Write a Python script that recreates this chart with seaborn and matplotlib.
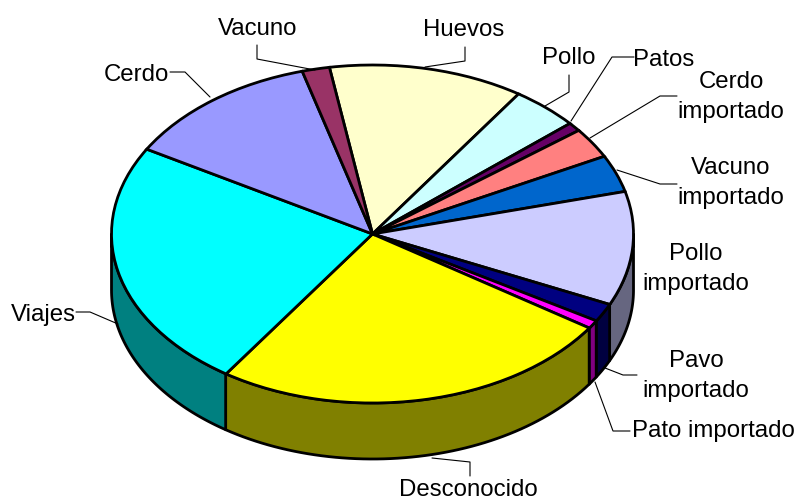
import numpy as np
import matplotlib
matplotlib.use("Agg")
import matplotlib.pyplot as plt
import seaborn as sns

names = ["Huevos", "Pollo", "Patos", "Cerdo\nimportado", "Vacuno\nimportado", "Pollo\nimportado",
         "Pavo\nimportado", "Pato importado", "Desconocido", "Viajes", "Cerdo", "Vacuno"]
values = [12.1, 4.2, 0.85, 2.9, 3.55, 10.9, 1.75, 0.8, 25.1, 23.9, 12.3, 1.7]
top_colors = ["#FFFFCC", "#CCFFFF", "#660066", "#FF8080", "#0066CC", "#CCCCFF",
              "#000080", "#FF00FF", "#FFFF00", "#00FFFF", "#9999FF", "#993366"]
side_colors = ["#808066", "#668080", "#330033", "#804040", "#003366", "#666680",
               "#000040", "#800080", "#808000", "#008080", "#4D4D80", "#4D1A33"]

# label centres and leader lines, in picture pixels
label_pos = [(464, 30), (569, 58), (664, 60), (731, 97), (731, 183), (696, 269),
             (696, 376), (713, 431), (468, 490), (43, 315), (136, 75), (258, 29)]
leaders = [[(465, 48), (465, 62), (425, 68)],
           [(569, 76), (569, 93), (545, 107)],
           [(634, 58), (612, 58), (571, 122)],
           [(677, 97), (660, 97), (590, 139)],
           [(677, 185), (660, 185), (617, 171)],
           [(605, 369), (623, 376), (637, 376)],
           [(595, 383), (613, 432), (630, 432)],
           [(432, 459), (470, 463), (470, 477)],
           [(76, 313), (90, 313), (118, 325)],
           [(170, 73), (185, 73), (210, 98)],
           [(257, 46), (257, 60), (315, 71)]]

cx, cy, rx, ry, depth = 372.5, 235, 261, 169, 56
start = 99.5

sns.set_theme(style="white")
plt.rcParams["font.family"] = ["Liberation Sans"]

fig = plt.figure(figsize=(7.96, 5.02), dpi=100)
ax = fig.add_axes([0, 0, 1, 1])

ax.pie(values, colors=top_colors, startangle=start, counterclock=False, radius=1,
       wedgeprops=dict(edgecolor="black", linewidth=2.0, zorder=5))
ax.set_aspect("auto")
ax.set_xlim(-cx / rx, (796 - cx) / rx)
ax.set_ylim((cy - 502) / ry, cy / ry)
ax.axis("off")

# side wall below the front half of the rim
d = depth / ry
edges = start - np.cumsum([0] + values) * 3.6
for i in range(len(values)):
    a2, a1 = edges[i], edges[i + 1]
    # keep only the part of the wedge in the lower half
    for low, high in [(-180, 0), (-540, -360)]:
        lo, hi = max(a1, low), min(a2, high)
        if hi <= lo:
            continue
        t = np.radians(np.linspace(lo, hi, 60))
        xs = np.cos(t)
        ys = np.sin(t)
        ax.fill(np.r_[xs, xs[::-1]], np.r_[ys, ys[::-1] - d], facecolor=side_colors[i],
                edgecolor="black", linewidth=2.0, zorder=2, joinstyle="round")

# overlay in pixel coordinates for text and leader lines
ov = fig.add_axes([0, 0, 1, 1])
ov.set_xlim(0, 796)
ov.set_ylim(502, 0)
ov.axis("off")
for line in leaders:
    pts = np.array(line)
    ov.plot(pts[:, 0], pts[:, 1], color="black", linewidth=0.8)
for name, (x, y) in zip(names, label_pos):
    ov.text(x, y, name, ha="center", va="center", fontsize=17.3, color="black", linespacing=1.45)

fig.savefig("out.png", dpi=100)
